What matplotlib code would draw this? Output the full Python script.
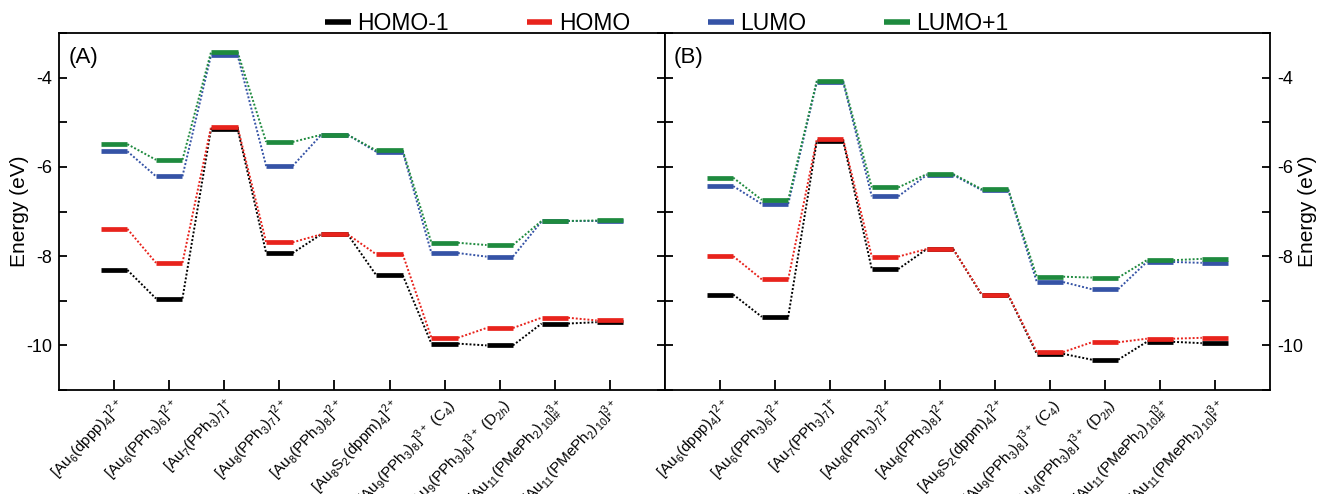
import matplotlib
matplotlib.use("Agg")
import matplotlib.pyplot as plt
from matplotlib.ticker import MultipleLocator
from matplotlib.lines import Line2D
import numpy as np

plt.rcParams['font.family'] = ['Liberation Sans', 'DejaVu Sans']
plt.rcParams['mathtext.fontset'] = 'custom'
plt.rcParams['mathtext.rm'] = 'Liberation Sans'
plt.rcParams['mathtext.it'] = 'Liberation Sans:italic'
plt.rcParams['mathtext.bf'] = 'Liberation Sans:bold'
plt.rcParams['axes.unicode_minus'] = False

categories = [
    r'[Au$_6$(dppp)$_4$]$^{2+}$',
    r'[Au$_6$(PPh$_3$)$_6$]$^{2+}$',
    r'[Au$_7$(PPh$_3$)$_7$]$^{+}$',
    r'[Au$_8$(PPh$_3$)$_7$]$^{2+}$',
    r'[Au$_8$(PPh$_3$)$_8$]$^{2+}$',
    r'[Au$_8$S$_2$(dppm)$_4$]$^{2+}$',
    r'[Au$_9$(PPh$_3$)$_8$]$^{3+}$ (C$_4$)',
    r'[Au$_9$(PPh$_3$)$_8$]$^{3+}$ (D$_{2h}$)',
    r'[Au$_{11}$(PMePh$_2$)$_{10}$]$_{\#}^{3+}$',
    r'[Au$_{11}$(PMePh$_2$)$_{10}$]$_{*}^{3+}$',
]

series_names = ['HOMO-1', 'HOMO', 'LUMO', 'LUMO+1']
series_colors = ['#000000', '#e8231c', '#3553a6', '#1e8a3e']

# Panel A
A_homo_1 = [-8.31, -8.95, -5.14, -7.93, -7.51, -8.43, -9.96, -10.00, -9.51, -9.48]
A_homo   = [-7.39, -8.15, -5.10, -7.69, -7.51, -7.96, -9.83, -9.61, -9.38, -9.44]
A_lumo   = [-5.65, -6.21, -3.49, -5.98, -5.28, -5.66, -7.93, -8.01, -7.22, -7.22]
A_lumo_1 = [-5.49, -5.84, -3.42, -5.44, -5.28, -5.63, -7.70, -7.75, -7.21, -7.20]

# Panel B
B_homo_1 = [-8.86, -9.36, -5.42, -8.29, -7.84, -8.87, -10.19, -10.32, -9.92, -9.95]
B_homo   = [-8.00, -8.52, -5.38, -8.01, -7.84, -8.86, -10.15, -9.93, -9.85, -9.83]
B_lumo   = [-6.43, -6.83, -4.10, -6.66, -6.18, -6.52, -8.58, -8.74, -8.13, -8.15]
B_lumo_1 = [-6.24, -6.74, -4.07, -6.46, -6.16, -6.50, -8.46, -8.48, -8.09, -8.06]

fig = plt.figure(figsize=(13.21, 4.94), dpi=100)
axA = fig.add_axes([0.0447, 0.2105, 0.4587, 0.7225])
axB = fig.add_axes([0.5034, 0.2105, 0.4580, 0.7225])

hw = 0.24
x = np.arange(1, len(categories) + 1)

def draw(ax, data):
    for vals, col in zip(data, series_colors):
        vals = np.asarray(vals)
        for xi, v in zip(x, vals):
            ax.plot([xi - hw, xi + hw], [v, v], color=col, lw=3.4,
                    solid_capstyle='butt', zorder=3)
        for i in range(len(vals) - 1):
            ax.plot([x[i] + hw, x[i + 1] - hw], [vals[i], vals[i + 1]],
                    color=col, lw=1.4, linestyle=(0, (1, 1)), zorder=2)
    ax.set_xlim(0, 11)
    ax.set_ylim(-11, -3)
    ax.set_xticks(x)
    ax.set_xticklabels(categories, rotation=47, ha='right',
                       rotation_mode='anchor', fontsize=11)
    ax.yaxis.set_major_locator(MultipleLocator(2))
    ax.yaxis.set_minor_locator(MultipleLocator(1))
    ax.tick_params(axis='x', direction='in', length=7, width=1.3, pad=4)
    ax.tick_params(axis='y', which='both', direction='in', length=6,
                   width=1.3, labelsize=13, left=True, right=True, pad=5)
    for s in ax.spines.values():
        s.set_linewidth(1.3)

draw(axA, [A_homo_1, A_homo, A_lumo, A_lumo_1])
draw(axB, [B_homo_1, B_homo, B_lumo, B_lumo_1])

axA.set_ylabel('Energy (eV)', fontsize=15)
axA.yaxis.set_label_coords(-0.05, 0.5)
axB.tick_params(axis='y', which='both', labelleft=False, labelright=True)
axB.yaxis.set_label_position('right')
axB.set_ylabel('Energy (eV)', fontsize=15)
axB.yaxis.set_label_coords(1.047, 0.5)

axA.text(0.015, 0.962, '(A)', transform=axA.transAxes, fontsize=16,
         va='top', ha='left')
axB.text(0.015, 0.962, '(B)', transform=axB.transAxes, fontsize=16,
         va='top', ha='left')

handles = [Line2D([], [], color=c, lw=4.0, solid_capstyle='butt')
           for c in series_colors]
fig.legend(handles, series_names, loc='center', ncol=4,
           bbox_to_anchor=(0.505, 0.953), frameon=False, fontsize=16.5,
           handlelength=1.1, handletextpad=0.3, columnspacing=3.4)

fig.savefig('out.png', dpi=100)
